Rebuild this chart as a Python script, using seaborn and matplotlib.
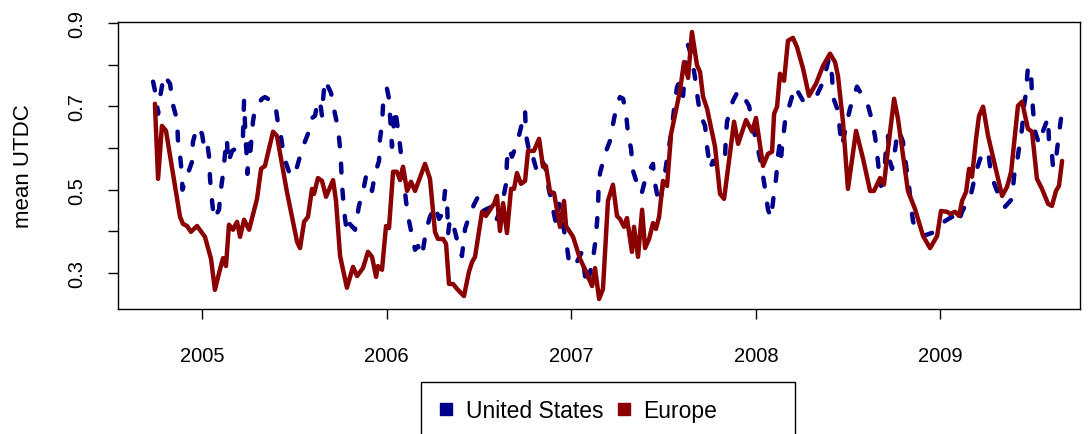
import matplotlib
matplotlib.use("Agg")
import matplotlib.pyplot as plt
from matplotlib.lines import Line2D
from matplotlib.patches import Rectangle
import seaborn as sns
import pandas as pd

# values (decimal year, mean UTDC)
us_time = [2004.735, 2004.751, 2004.762, 2004.772, 2004.794, 2004.827, 2004.843, 2004.865, 2004.870, 2004.881,
           2004.892, 2004.894, 2004.919, 2004.946, 2004.951, 2004.973, 2005.000, 2005.011, 2005.027, 2005.038,
           2005.043, 2005.049, 2005.065, 2005.092, 2005.103, 2005.114, 2005.125, 2005.135, 2005.141, 2005.163,
           2005.206, 2005.222, 2005.225, 2005.228, 2005.233, 2005.236, 2005.244, 2005.246, 2005.255, 2005.260,
           2005.276, 2005.287, 2005.325, 2005.341, 2005.368, 2005.395, 2005.412, 2005.428, 2005.444, 2005.471,
           2005.493, 2005.515, 2005.536, 2005.553, 2005.574, 2005.590, 2005.612, 2005.628, 2005.639, 2005.650,
           2005.655, 2005.666, 2005.699, 2005.720, 2005.737, 2005.748, 2005.753, 2005.758, 2005.764, 2005.775,
           2005.785, 2005.796, 2005.829, 2005.850, 2005.872, 2005.888, 2005.899, 2005.921, 2005.937, 2005.959,
           2005.964, 2005.975, 2005.981, 2006.002, 2006.013, 2006.029, 2006.046, 2006.056, 2006.073, 2006.089,
           2006.105, 2006.116, 2006.138, 2006.154, 2006.170, 2006.192, 2006.213, 2006.235, 2006.262, 2006.284,
           2006.306, 2006.316, 2006.327, 2006.333, 2006.343, 2006.360, 2006.387, 2006.408, 2006.425, 2006.446,
           2006.473, 2006.495, 2006.522, 2006.544, 2006.571, 2006.593, 2006.614, 2006.631, 2006.647, 2006.652,
           2006.663, 2006.679, 2006.706, 2006.733, 2006.750, 2006.755, 2006.777, 2006.788, 2006.809, 2006.826,
           2006.858, 2006.880, 2006.896, 2006.901, 2006.918, 2006.934, 2006.950, 2006.977, 2006.988, 2007.010,
           2007.031, 2007.058, 2007.075, 2007.086, 2007.118, 2007.129, 2007.140, 2007.145, 2007.148, 2007.156,
           2007.183, 2007.210, 2007.232, 2007.248, 2007.264, 2007.281, 2007.297, 2007.308, 2007.324, 2007.335,
           2007.357, 2007.373, 2007.384, 2007.400, 2007.427, 2007.443, 2007.449, 2007.470, 2007.481, 2007.497,
           2007.508, 2007.519, 2007.541, 2007.562, 2007.573, 2007.589, 2007.606, 2007.622, 2007.633, 2007.654,
           2007.671, 2007.681, 2007.698, 2007.725, 2007.736, 2007.752, 2007.768, 2007.779, 2007.801, 2007.833,
           2007.838, 2007.844, 2007.876, 2007.904, 2007.925, 2007.963, 2007.979, 2008.001, 2008.023, 2008.039,
           2008.050, 2008.066, 2008.083, 2008.099, 2008.110, 2008.120, 2008.131, 2008.137, 2008.158, 2008.180,
           2008.212, 2008.256, 2008.293, 2008.331, 2008.364, 2008.396, 2008.413, 2008.418, 2008.445, 2008.456,
           2008.467, 2008.494, 2008.510, 2008.548, 2008.564, 2008.602, 2008.624, 2008.646, 2008.656, 2008.667,
           2008.678, 2008.694, 2008.705, 2008.716, 2008.727, 2008.738, 2008.759, 2008.765, 2008.781, 2008.797,
           2008.803, 2008.819, 2008.830, 2008.841, 2008.852, 2008.879, 2008.906, 2008.971, 2008.998, 2009.025,
           2009.063, 2009.085, 2009.095, 2009.117, 2009.139, 2009.166, 2009.182, 2009.198, 2009.215, 2009.258,
           2009.274, 2009.296, 2009.323, 2009.350, 2009.388, 2009.399, 2009.415, 2009.431, 2009.442, 2009.453,
           2009.464, 2009.474, 2009.491, 2009.496, 2009.502, 2009.512, 2009.534, 2009.556, 2009.583, 2009.588,
           2009.604, 2009.610, 2009.626, 2009.642, 2009.653]
us_utdc = [0.759, 0.725, 0.682, 0.720, 0.775, 0.754, 0.703, 0.667, 0.617, 0.583,
           0.533, 0.500, 0.533, 0.567, 0.615, 0.651, 0.634, 0.603, 0.615, 0.581,
           0.531, 0.495, 0.430, 0.452, 0.502, 0.538, 0.586, 0.622, 0.564, 0.593,
           0.605, 0.629, 0.677, 0.713, 0.653, 0.622, 0.569, 0.538, 0.610, 0.579,
           0.663, 0.694, 0.718, 0.722, 0.715, 0.711, 0.658, 0.627, 0.579, 0.543,
           0.531, 0.555, 0.588, 0.610, 0.634, 0.670, 0.677, 0.713, 0.713, 0.677,
           0.713, 0.763, 0.732, 0.682, 0.648, 0.598, 0.564, 0.514, 0.481, 0.430,
           0.399, 0.420, 0.404, 0.461, 0.495, 0.531, 0.533, 0.497, 0.538, 0.569,
           0.622, 0.655, 0.706, 0.742, 0.718, 0.603, 0.694, 0.663, 0.605, 0.538,
           0.473, 0.437, 0.389, 0.356, 0.365, 0.341, 0.401, 0.435, 0.461, 0.430,
           0.445, 0.497, 0.478, 0.394, 0.430, 0.418, 0.370, 0.341, 0.406, 0.435,
           0.464, 0.483, 0.449, 0.454, 0.459, 0.425, 0.449, 0.478, 0.514, 0.569,
           0.600, 0.579, 0.610, 0.658, 0.689, 0.631, 0.581, 0.586, 0.552, 0.579,
           0.557, 0.497, 0.471, 0.454, 0.418, 0.466, 0.430, 0.363, 0.327, 0.315,
           0.327, 0.351, 0.293, 0.269, 0.334, 0.370, 0.423, 0.454, 0.502, 0.540,
           0.586, 0.617, 0.670, 0.703, 0.722, 0.718, 0.682, 0.634, 0.598, 0.545,
           0.514, 0.490, 0.495, 0.523, 0.550, 0.562, 0.526, 0.478, 0.466, 0.514,
           0.540, 0.574, 0.634, 0.711, 0.746, 0.761, 0.725, 0.814, 0.847, 0.814,
           0.768, 0.732, 0.682, 0.653, 0.603, 0.550, 0.569, 0.562, 0.557, 0.576,
           0.629, 0.663, 0.713, 0.737, 0.730, 0.701, 0.667, 0.617, 0.574, 0.533,
           0.502, 0.452, 0.432, 0.495, 0.528, 0.581, 0.615, 0.581, 0.663, 0.699,
           0.747, 0.713, 0.722, 0.727, 0.758, 0.814, 0.773, 0.722, 0.689, 0.639,
           0.605, 0.663, 0.694, 0.747, 0.735, 0.711, 0.675, 0.627, 0.591, 0.543,
           0.509, 0.526, 0.598, 0.629, 0.567, 0.550, 0.610, 0.641, 0.634, 0.615,
           0.591, 0.543, 0.509, 0.459, 0.423, 0.401, 0.389, 0.399, 0.411, 0.425,
           0.435, 0.425, 0.418, 0.447, 0.466, 0.490, 0.521, 0.550, 0.574, 0.593,
           0.538, 0.509, 0.478, 0.459, 0.478, 0.533, 0.567, 0.615, 0.646, 0.701,
           0.734, 0.795, 0.778, 0.725, 0.689, 0.641, 0.610, 0.641, 0.672, 0.617,
           0.586, 0.553, 0.574, 0.634, 0.670]

eu_time = [2004.745, 2004.762, 2004.783, 2004.805, 2004.881, 2004.897, 2004.919, 2004.940, 2004.973, 2005.016,
           2005.049, 2005.070, 2005.098, 2005.114, 2005.130, 2005.146, 2005.168, 2005.190, 2005.206, 2005.228,
           2005.255, 2005.298, 2005.320, 2005.341, 2005.385, 2005.406, 2005.460, 2005.515, 2005.531, 2005.553,
           2005.574, 2005.596, 2005.607, 2005.628, 2005.650, 2005.672, 2005.710, 2005.726, 2005.748, 2005.785,
           2005.818, 2005.840, 2005.872, 2005.899, 2005.921, 2005.943, 2005.953, 2005.975, 2005.997, 2006.013,
           2006.035, 2006.056, 2006.073, 2006.089, 2006.111, 2006.132, 2006.154, 2006.208, 2006.235, 2006.262,
           2006.278, 2006.306, 2006.322, 2006.338, 2006.360, 2006.382, 2006.419, 2006.446, 2006.463, 2006.479,
           2006.517, 2006.538, 2006.566, 2006.582, 2006.598, 2006.614, 2006.631, 2006.652, 2006.674, 2006.690,
           2006.706, 2006.728, 2006.750, 2006.766, 2006.798, 2006.826, 2006.847, 2006.863, 2006.885, 2006.907,
           2006.939, 2006.961, 2006.972, 2007.010, 2007.048, 2007.086, 2007.113, 2007.129, 2007.151, 2007.172,
           2007.199, 2007.226, 2007.248, 2007.264, 2007.286, 2007.302, 2007.329, 2007.340, 2007.362, 2007.384,
           2007.400, 2007.422, 2007.443, 2007.459, 2007.476, 2007.497, 2007.519, 2007.541, 2007.551, 2007.589,
           2007.611, 2007.633, 2007.654, 2007.681, 2007.698, 2007.714, 2007.736, 2007.779, 2007.806, 2007.828,
           2007.882, 2007.904, 2007.947, 2007.980, 2008.001, 2008.039, 2008.066, 2008.088, 2008.099, 2008.115,
           2008.131, 2008.153, 2008.174, 2008.201, 2008.223, 2008.256, 2008.288, 2008.326, 2008.364, 2008.402,
           2008.429, 2008.445, 2008.472, 2008.499, 2008.543, 2008.581, 2008.619, 2008.640, 2008.673, 2008.694,
           2008.716, 2008.749, 2008.770, 2008.824, 2008.862, 2008.906, 2008.944, 2008.982, 2009.003, 2009.036,
           2009.052, 2009.079, 2009.101, 2009.117, 2009.139, 2009.155, 2009.171, 2009.193, 2009.209, 2009.231,
           2009.258, 2009.296, 2009.334, 2009.361, 2009.383, 2009.420, 2009.442, 2009.474, 2009.496, 2009.523,
           2009.550, 2009.583, 2009.604, 2009.626, 2009.642, 2009.659]
eu_utdc = [0.706, 0.526, 0.653, 0.641, 0.435, 0.418, 0.413, 0.399, 0.413, 0.387,
           0.334, 0.260, 0.310, 0.336, 0.317, 0.416, 0.404, 0.423, 0.387, 0.428,
           0.404, 0.478, 0.550, 0.557, 0.639, 0.629, 0.495, 0.375, 0.360, 0.423,
           0.435, 0.502, 0.490, 0.528, 0.521, 0.483, 0.523, 0.473, 0.341, 0.265,
           0.315, 0.293, 0.312, 0.351, 0.339, 0.291, 0.317, 0.308, 0.413, 0.408,
           0.543, 0.543, 0.523, 0.555, 0.497, 0.519, 0.497, 0.562, 0.526, 0.399,
           0.382, 0.382, 0.370, 0.274, 0.274, 0.262, 0.245, 0.303, 0.327, 0.339,
           0.447, 0.437, 0.456, 0.466, 0.485, 0.401, 0.468, 0.396, 0.502, 0.502,
           0.540, 0.514, 0.521, 0.593, 0.593, 0.622, 0.555, 0.557, 0.495, 0.492,
           0.411, 0.473, 0.413, 0.387, 0.334, 0.298, 0.269, 0.312, 0.238, 0.262,
           0.473, 0.512, 0.437, 0.430, 0.411, 0.432, 0.351, 0.411, 0.339, 0.452,
           0.360, 0.382, 0.420, 0.406, 0.435, 0.521, 0.509, 0.634, 0.655, 0.737,
           0.806, 0.768, 0.878, 0.799, 0.782, 0.723, 0.694, 0.603, 0.490, 0.478,
           0.663, 0.610, 0.667, 0.639, 0.672, 0.557, 0.586, 0.591, 0.682, 0.699,
           0.778, 0.761, 0.857, 0.864, 0.842, 0.790, 0.725, 0.754, 0.797, 0.826,
           0.806, 0.773, 0.663, 0.502, 0.641, 0.574, 0.497, 0.497, 0.528, 0.512,
           0.598, 0.718, 0.670, 0.497, 0.454, 0.389, 0.360, 0.389, 0.449, 0.447,
           0.442, 0.447, 0.437, 0.473, 0.495, 0.550, 0.531, 0.622, 0.677, 0.699,
           0.629, 0.557, 0.485, 0.507, 0.543, 0.701, 0.711, 0.646, 0.639, 0.526,
           0.502, 0.466, 0.461, 0.497, 0.509, 0.569]

series_names = ["United States", "Europe"]
series_colors = ["#00008B", "#8B0000"]
year_ticks = [2005, 2006, 2007, 2008, 2009]
y_ticks = [0.3, 0.4, 0.5, 0.6, 0.7, 0.8, 0.9]
y_tick_labels = ["0.3", "", "0.5", "", "0.7", "", "0.9"]

us = pd.DataFrame({"time": us_time, "utdc": us_utdc})
eu = pd.DataFrame({"time": eu_time, "utdc": eu_utdc})

sns.set_theme(style="white")
plt.rcParams["font.family"] = ["Liberation Sans", "DejaVu Sans"]
plt.rcParams["text.color"] = "black"
plt.rcParams["axes.labelcolor"] = "black"

fig = plt.figure(figsize=(10.89, 4.35), dpi=100)
ax = fig.add_axes([118 / 1089, 1 - 310 / 435, (1080 - 118) / 1089, (310 - 23) / 435])

sns.lineplot(data=us, x="time", y="utdc", ax=ax, color=series_colors[0], lw=3.2,
             estimator=None, sort=False)
ax.lines[-1].set_dashes([2.0, 3.9])
ax.lines[-1].set_dash_capstyle("round")
sns.lineplot(data=eu, x="time", y="utdc", ax=ax, color=series_colors[1], lw=3.2,
             estimator=None, sort=False)
ax.lines[-1].set_solid_joinstyle("round")

ax.set_xlim(2004.545, 2009.756)
ax.set_ylim(0.214, 0.902)
ax.set_xticks(year_ticks)
ax.set_xticklabels([str(y) for y in year_ticks])
ax.set_yticks(y_ticks)
ax.set_yticklabels(y_tick_labels, rotation=90, va="center")
ax.set_xlabel("")
ax.set_ylabel("mean UTDC", fontsize=16, labelpad=24, color="black")
ax.tick_params(axis="both", direction="out", length=7, width=1, colors="black",
               labelsize=14.5, left=True, bottom=True)
ax.tick_params(axis="x", pad=20)
ax.tick_params(axis="y", pad=16)
for s in ax.spines.values():
    s.set_color("black")
    s.set_linewidth(1)

handles = [Line2D([], [], marker="s", linestyle="none", color=c, markersize=8) for c in series_colors]
fig.legend(handles, series_names, loc="center left", ncol=2, frameon=False,
           bbox_to_anchor=(437 / 1089, 1 - 412 / 435), borderaxespad=0, borderpad=0,
           handlelength=0.8, handletextpad=0.45, columnspacing=0.5, fontsize=16.5)
fig.patches.append(Rectangle((421 / 1089, -0.02), (795 - 421) / 1089, 0.02 + 1 - 383 / 435,
                             transform=fig.transFigure, fill=False, edgecolor="black",
                             linewidth=1, clip_on=False))

fig.savefig("out.png", dpi=100)
